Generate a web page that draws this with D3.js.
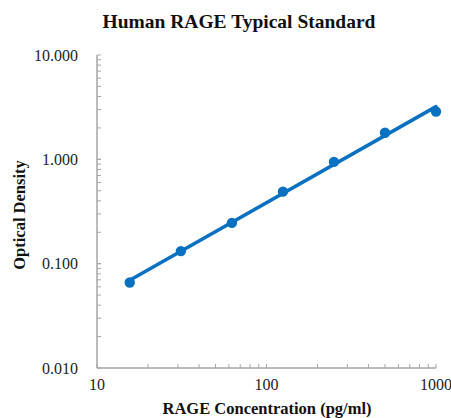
<!DOCTYPE html>
<html><head><meta charset="utf-8">
<script src="https://cdn.jsdelivr.net/npm/d3@7"></script>
<style>body{margin:0;background:#fff}svg{display:block}</style>
</head><body>
<script>
const concentrations = [15.6, 31.25, 62.5, 125, 250, 500, 1000];
const odValues = [0.066, 0.132, 0.246, 0.49, 0.945, 1.8, 2.87];
const xTickLabels = ["10", "100", "1000"];
const yTickLabels = ["0.010", "0.100", "1.000", "10.000"];

const W = 451, H = 418;
const svg = d3.select("body").append("svg").attr("width", W).attr("height", H);
const x = d3.scaleLog().domain([10, 1000]).range([97, 436]);
const y = d3.scaleLog().domain([0.01, 10]).range([368, 55]);
const axisColor = "#a6a6a6";
const blue = "#0a70c0";
const serif = "'Liberation Serif','Times New Roman',serif";

// minor + major ticks
const xMinor = [];
for (let d = 10; d < 1000; d *= 10) for (let k = 1; k <= 10; k++) xMinor.push(d * k);
const yMinor = [];
for (let d = 0.01; d < 9; d *= 10) for (let k = 1; k <= 10; k++) yMinor.push(+(d * k).toPrecision(3));

const g = svg.append("g");
g.selectAll(".xt").data(xMinor).join("line")
  .attr("x1", d => x(d)).attr("x2", d => x(d))
  .attr("y1", y(0.01)).attr("y2", y(0.01) - 4)
  .attr("stroke", axisColor).attr("stroke-width", 1);
g.selectAll(".yt").data(yMinor).join("line")
  .attr("x1", x(10)).attr("x2", x(10) + 4)
  .attr("y1", d => y(d)).attr("y2", d => y(d))
  .attr("stroke", axisColor).attr("stroke-width", 1);
g.append("line").attr("x1", x(10)).attr("x2", x(1000)).attr("y1", y(0.01)).attr("y2", y(0.01))
  .attr("stroke", axisColor).attr("stroke-width", 1.5);
g.append("line").attr("x1", x(10)).attr("x2", x(10)).attr("y1", y(0.01)).attr("y2", y(10))
  .attr("stroke", axisColor).attr("stroke-width", 1.5);

// tick labels
svg.selectAll(".xl").data(xTickLabels).join("text")
  .attr("x", d => x(+d)).attr("y", 390).attr("text-anchor", "middle")
  .attr("font-family", serif).attr("font-size", 16).attr("fill", "#222").text(d => d);
svg.selectAll(".yl").data(yTickLabels).join("text")
  .attr("x", 78).attr("y", d => y(+d) + 5.5).attr("text-anchor", "end")
  .attr("font-family", serif).attr("font-size", 16).attr("fill", "#222").text(d => d);

// trend line: least squares in log-log space, computed from the data
const lx = concentrations.map(Math.log10), ly = odValues.map(Math.log10);
const mx = d3.mean(lx), my = d3.mean(ly);
const slope = d3.sum(lx.map((v, i) => (v - mx) * (ly[i] - my))) / d3.sum(lx.map(v => (v - mx) ** 2));
const icpt = my - slope * mx;
const fitX = [concentrations[0], concentrations[concentrations.length - 1]];
svg.append("path")
  .attr("d", d3.line().x(d => x(d)).y(d => y(Math.pow(10, icpt + slope * Math.log10(d))))(fitX))
  .attr("fill", "none").attr("stroke", blue).attr("stroke-width", 3.5).attr("stroke-linecap", "round");

svg.selectAll(".pt").data(concentrations).join("circle")
  .attr("cx", d => x(d)).attr("cy", (d, i) => y(odValues[i])).attr("r", 5.2).attr("fill", blue);

// titles
svg.append("text").attr("x", 239).attr("y", 28).attr("text-anchor", "middle")
  .attr("font-family", serif).attr("font-weight", "bold").attr("font-size", 19.5).attr("fill", "#111")
  .text("Human RAGE Typical Standard");
svg.append("text").attr("x", 267).attr("y", 414).attr("text-anchor", "middle")
  .attr("font-family", serif).attr("font-weight", "bold").attr("font-size", 16.5).attr("fill", "#111")
  .text("RAGE Concentration (pg/ml)");
svg.append("text").attr("transform", "translate(25,215) rotate(-90)").attr("text-anchor", "middle")
  .attr("font-family", serif).attr("font-weight", "bold").attr("font-size", 16.5).attr("fill", "#111")
  .text("Optical Density");
</script>
</body></html>
